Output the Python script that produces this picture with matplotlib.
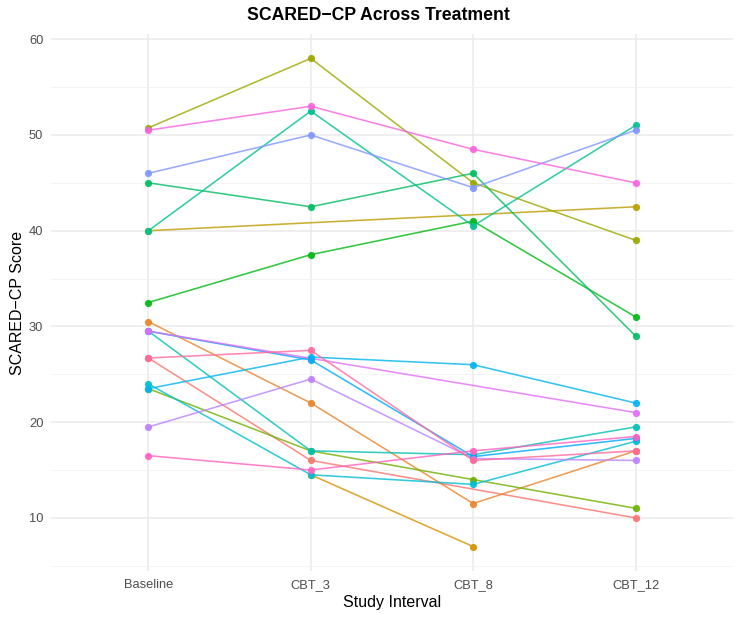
import numpy as np
import matplotlib.pyplot as plt

plt.rcParams['font.family'] = ['Liberation Sans', 'DejaVu Sans']

# -----------------------------------
#  DATA  (one list per subject, NaN = no visit)
# -----------------------------------

intervals = ["Baseline", "CBT_3", "CBT_8", "CBT_12"]
nan = np.nan

s01 = [26.7, 16.0, nan, 10.0]
s02 = [30.5, 22.0, 11.5, 17.0]
s03 = [nan, 14.5, 7.0, nan]
s04 = [40.0, nan, nan, 42.5]
s05 = [50.75, 58.0, 45.0, 39.0]
s06 = [23.5, 17.0, 14.0, 11.0]
s07 = [32.5, 37.5, 41.0, 31.0]
s08 = [45.0, 42.5, 46.0, 29.0]
s09 = [40.0, 52.5, 40.5, 51.0]
s10 = [29.5, 17.0, 16.6, 19.5]
s11 = [24.0, 14.5, 13.5, 18.0]
s12 = [23.5, 26.8, 26.0, 22.0]
s13 = [29.5, 26.5, 16.4, 18.3]
s14 = [46.0, 50.0, 44.5, 50.5]
s15 = [19.5, 24.5, 16.2, 16.0]
s16 = [29.5, nan, nan, 21.0]
s17 = [50.5, 53.0, 48.5, 45.0]
s18 = [16.5, 15.0, 17.0, 18.5]
s19 = [26.7, 27.5, 16.0, 17.0]

subjects = [s01, s02, s03, s04, s05, s06, s07, s08, s09, s10,
            s11, s12, s13, s14, s15, s16, s17, s18, s19]


# -----------------------------------
#  ggplot-like hue palette (HCL, l=65, c=100)
# -----------------------------------

def hcl_to_hex(h, c=100.0, l=65.0):
    xn, yn, zn = 95.047, 100.0, 108.883
    un = 4 * xn / (xn + 15 * yn + 3 * zn)
    vn = 9 * yn / (xn + 15 * yn + 3 * zn)
    hr = np.deg2rad(h)
    u, v = c * np.cos(hr), c * np.sin(hr)
    y = yn * ((l + 16) / 116) ** 3 if l > 8 else yn * l / 903.3
    up = u / (13 * l) + un
    vp = v / (13 * l) + vn
    x = y * 9 * up / (4 * vp)
    z = y * (12 - 3 * up - 20 * vp) / (4 * vp)
    xyz = np.array([x, y, z]) / 100.0
    m = np.array([[3.240479, -1.537150, -0.498535],
                  [-0.969256, 1.875992, 0.041556],
                  [0.055648, -0.204043, 1.057311]])
    rgb = m @ xyz
    rgb = np.where(rgb <= 0.0031308, 12.92 * rgb, 1.055 * np.abs(rgb) ** (1 / 2.4) - 0.055)
    rgb = np.clip(rgb, 0, 1)
    return "#%02x%02x%02x" % tuple(int(round(k * 255)) for k in rgb)


def hue_pal(n):
    hues = np.linspace(15, 375, n + 1)[:n]
    return [hcl_to_hex(h) for h in hues]


colors = hue_pal(len(subjects))

# -----------------------------------
#  PLOT
# -----------------------------------

fig = plt.figure(figsize=(7.44, 6.21), dpi=100)
ax = fig.add_axes([51 / 744, 1 - 571 / 621, (733 - 51) / 744, (571 - 34) / 621])

x = np.arange(len(intervals))
for i, vals in enumerate(subjects):
    v = np.array(vals, dtype=float)
    ok = ~np.isnan(v)
    ax.plot(x[ok], v[ok], color=colors[i], lw=1.15, alpha=0.8,
            zorder=2 + i * 0.001, solid_capstyle='round')
for i, vals in enumerate(subjects):
    v = np.array(vals, dtype=float)
    ok = ~np.isnan(v)
    ax.plot(x[ok], v[ok], 'o', color=colors[i], ms=5.2, mew=0, alpha=0.92,
            zorder=3 + i * 0.001)

ax.set_xlim(-0.6, 3.6)
ax.set_ylim(4.45, 60.55)
ax.set_xticks(x)
ax.set_xticklabels(intervals)
ax.set_yticks([10, 20, 30, 40, 50, 60])
ax.set_yticks([5, 15, 25, 35, 45, 55], minor=True)

ax.grid(True, which='major', color='#ebebeb', lw=1.1)
ax.grid(True, which='minor', axis='y', color='#f2f2f2', lw=0.6)
ax.set_axisbelow(True)
for sp in ax.spines.values():
    sp.set_visible(False)

ax.tick_params(axis='both', which='both', length=0, labelsize=9.3, labelcolor='#4d4d4d')
ax.tick_params(axis='y', pad=5.5)
ax.tick_params(axis='x', pad=6)

ax.set_xlabel("Study Interval", fontsize=11.5, labelpad=3)
ax.set_ylabel("SCARED\u2212CP Score", fontsize=11.5, labelpad=3)

fig.text(378 / 744, 1 - 15 / 621, "SCARED\u2212CP Across Treatment", ha='center', va='center',
         fontsize=12.7, fontweight='bold')

fig.savefig("out.png", dpi=100)
